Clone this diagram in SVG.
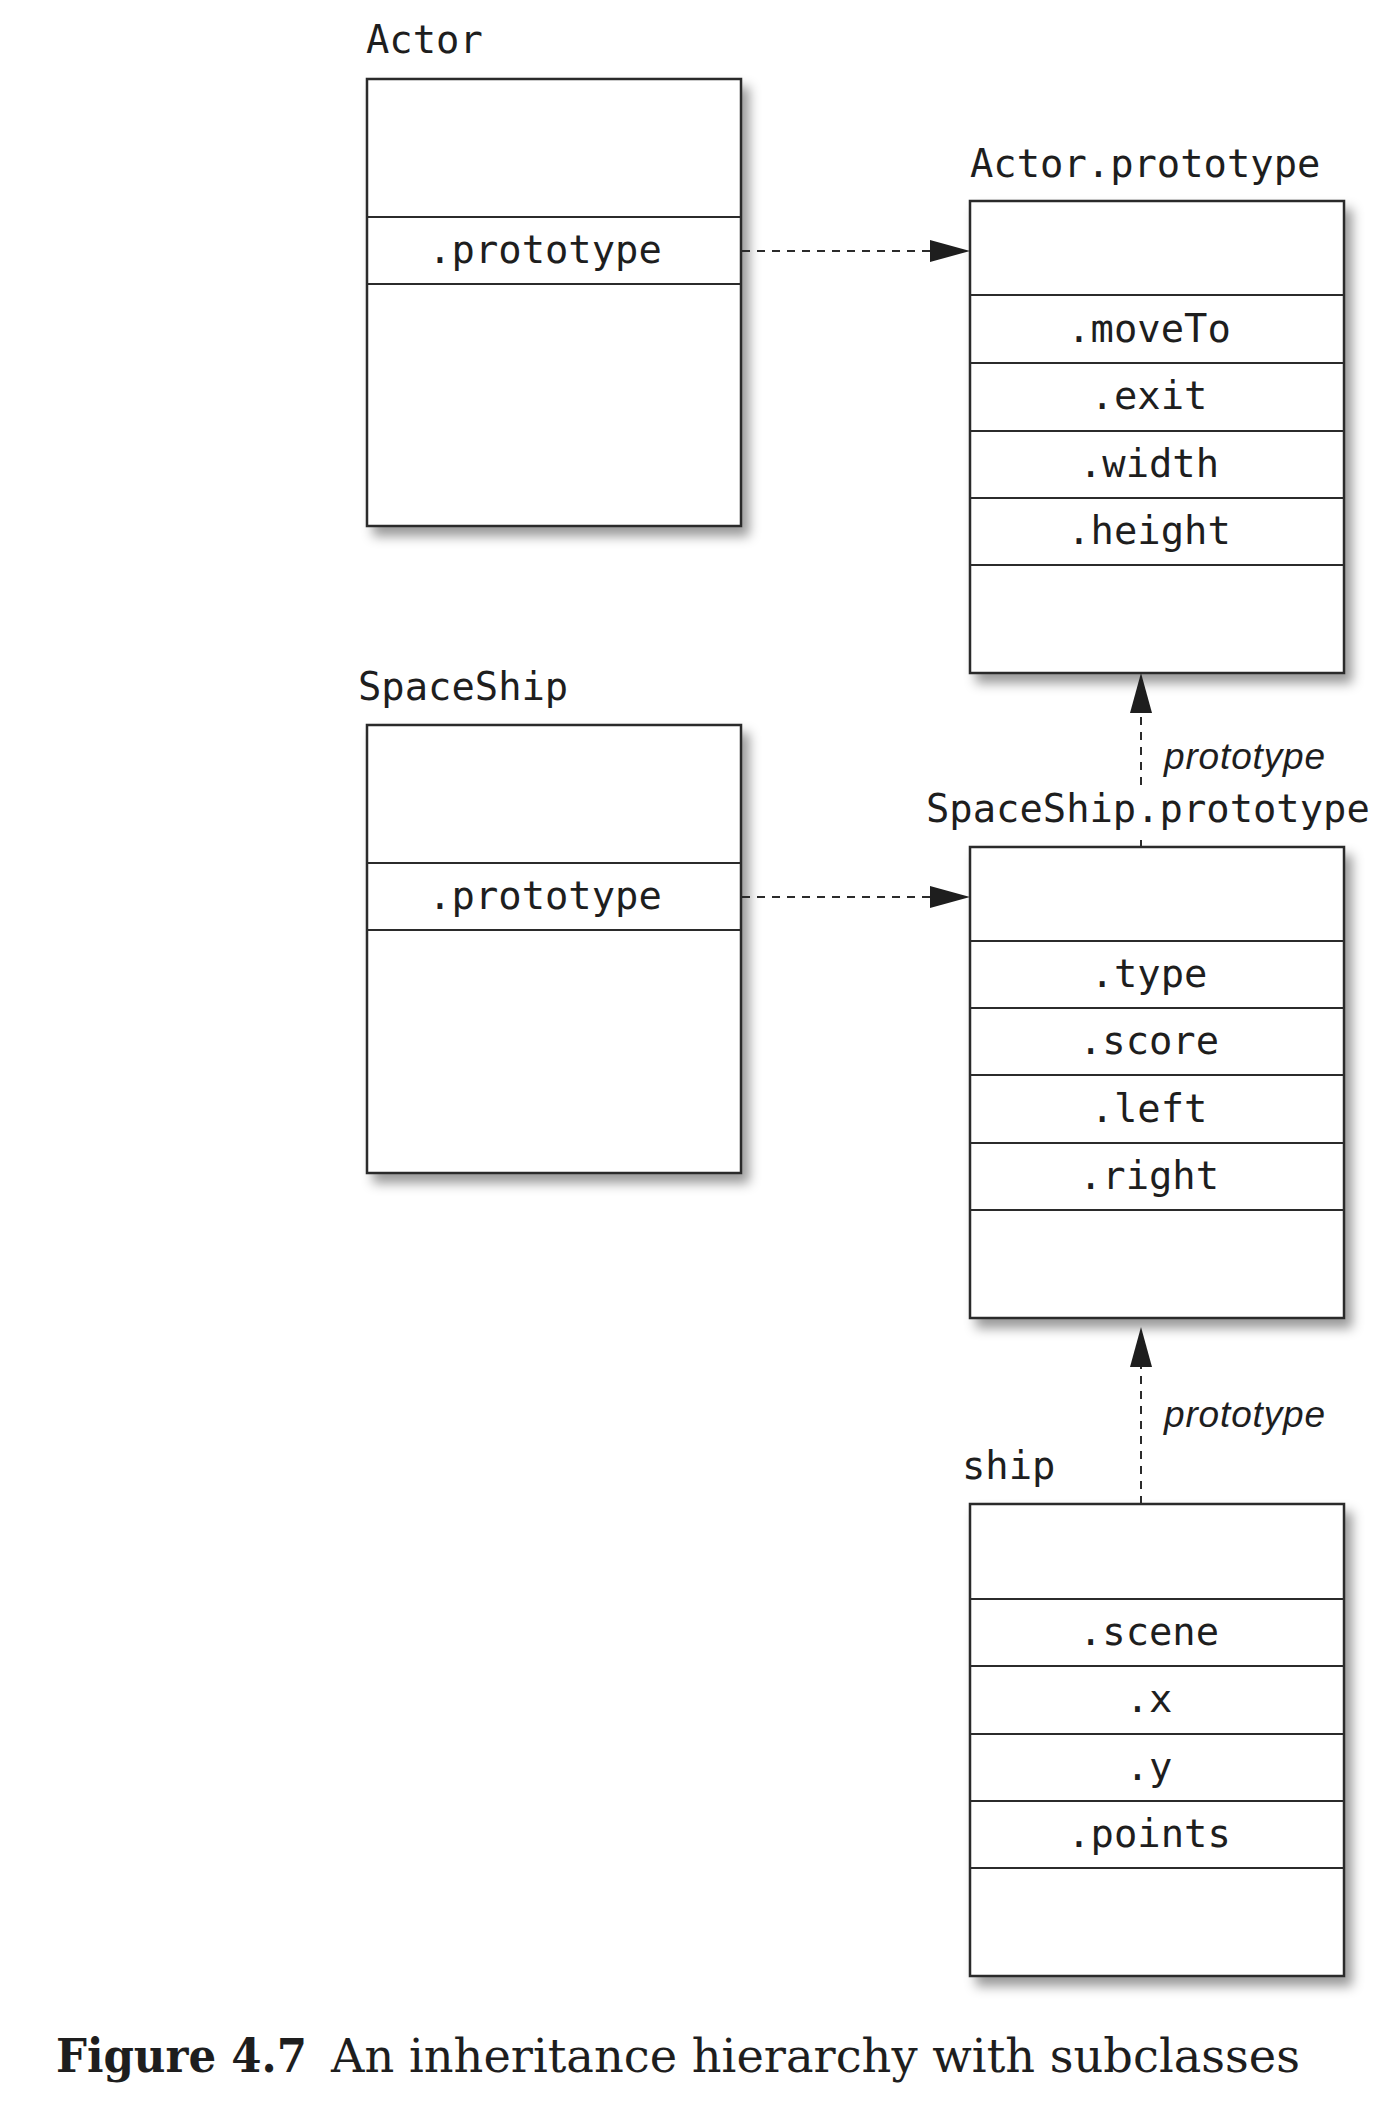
<svg xmlns="http://www.w3.org/2000/svg" width="1386" height="2110" viewBox="0 0 1386 2110">
  <style>
    .box { fill: #ffffff; stroke: #2b2b2b; stroke-width: 2.5; }
    .sep { stroke: #2b2b2b; stroke-width: 2; }
    .mono { font-family: "DejaVu Sans Mono", "Liberation Mono", monospace; font-size: 38.8px; fill: #1e1e1e; }
    .mid { text-anchor: middle; }
    .ital { font-family: "Liberation Sans", Arial, sans-serif; font-style: italic; font-size: 37px; fill: #1e1e1e; }
    .dash { fill: none; stroke: #2b2b2b; stroke-width: 2; stroke-dasharray: 8 7; }
    .cap { font-family: "DejaVu Serif", "Liberation Serif", serif; font-size: 46px; fill: #1e1e1e; }
  </style>
  <defs>
    <filter id="shadow" x="-10%" y="-10%" width="130%" height="130%">
      <feDropShadow dx="7" dy="9" stdDeviation="6" flood-color="#000000" flood-opacity="0.4"/>
    </filter>
    <marker id="arrow" markerUnits="userSpaceOnUse" markerWidth="40" markerHeight="22" refX="0" refY="11" orient="auto" viewBox="0 0 40 22">
      <path d="M0,0 L40,11 L0,22 Z" fill="#1e1e1e"/>
    </marker>
  </defs>
  <rect x="0" y="0" width="1386" height="2110" fill="#ffffff"/>

  <g id="actor">
    <text class="mono" x="366" y="53">Actor</text>
    <rect class="box" x="367" y="79" width="374" height="447" filter="url(#shadow)"/>
    <line class="sep" x1="367" y1="217" x2="741" y2="217"/>
    <line class="sep" x1="367" y1="284" x2="741" y2="284"/>
    <text class="mono mid" x="545" y="263">.prototype</text>
  </g>

  <g id="actor-prototype">
    <text class="mono" x="970" y="177">Actor.prototype</text>
    <rect class="box" x="970" y="201" width="374" height="472" filter="url(#shadow)"/>
    <line class="sep" x1="970" y1="295" x2="1344" y2="295"/>
    <line class="sep" x1="970" y1="363" x2="1344" y2="363"/>
    <line class="sep" x1="970" y1="431" x2="1344" y2="431"/>
    <line class="sep" x1="970" y1="498" x2="1344" y2="498"/>
    <line class="sep" x1="970" y1="565" x2="1344" y2="565"/>
    <text class="mono mid" x="1149" y="342">.moveTo</text>
    <text class="mono mid" x="1149" y="409">.exit</text>
    <text class="mono mid" x="1149" y="477">.width</text>
    <text class="mono mid" x="1149" y="544">.height</text>
  </g>

  <g id="spaceship">
    <text class="mono" x="358" y="700">SpaceShip</text>
    <rect class="box" x="367" y="725" width="374" height="448" filter="url(#shadow)"/>
    <line class="sep" x1="367" y1="863" x2="741" y2="863"/>
    <line class="sep" x1="367" y1="930" x2="741" y2="930"/>
    <text class="mono mid" x="545" y="909">.prototype</text>
  </g>

  <g id="spaceship-prototype">
    <text class="mono" x="926" y="822">SpaceShip.prototype</text>
    <rect class="box" x="970" y="847" width="374" height="471" filter="url(#shadow)"/>
    <line class="sep" x1="970" y1="941" x2="1344" y2="941"/>
    <line class="sep" x1="970" y1="1008" x2="1344" y2="1008"/>
    <line class="sep" x1="970" y1="1075" x2="1344" y2="1075"/>
    <line class="sep" x1="970" y1="1143" x2="1344" y2="1143"/>
    <line class="sep" x1="970" y1="1210" x2="1344" y2="1210"/>
    <text class="mono mid" x="1149" y="987">.type</text>
    <text class="mono mid" x="1149" y="1054">.score</text>
    <text class="mono mid" x="1149" y="1122">.left</text>
    <text class="mono mid" x="1149" y="1189">.right</text>
  </g>

  <g id="ship">
    <text class="mono" x="962" y="1479">ship</text>
    <rect class="box" x="970" y="1504" width="374" height="472" filter="url(#shadow)"/>
    <line class="sep" x1="970" y1="1599" x2="1344" y2="1599"/>
    <line class="sep" x1="970" y1="1666" x2="1344" y2="1666"/>
    <line class="sep" x1="970" y1="1734" x2="1344" y2="1734"/>
    <line class="sep" x1="970" y1="1801" x2="1344" y2="1801"/>
    <line class="sep" x1="970" y1="1868" x2="1344" y2="1868"/>
    <text class="mono mid" x="1149" y="1645">.scene</text>
    <text class="mono mid" x="1149" y="1712">.x</text>
    <text class="mono mid" x="1149" y="1780">.y</text>
    <text class="mono mid" x="1149" y="1847">.points</text>
  </g>

  <g id="connectors">
    <path class="dash" d="M742,251 H930" marker-end="url(#arrow)"/>
    <path class="dash" d="M742,897 H930" marker-end="url(#arrow)"/>
    <path class="dash" d="M1141,847 V840 M1141,785 V713" marker-end="url(#arrow)"/>
    <text class="ital" x="1164" y="769" textLength="161" lengthAdjust="spacing">prototype</text>
    <path class="dash" d="M1141,1504 V1367" marker-end="url(#arrow)"/>
    <text class="ital" x="1164" y="1427" textLength="161" lengthAdjust="spacing">prototype</text>
  </g>

  <g id="caption">
    <text class="cap" x="56" y="2072" font-weight="bold" textLength="251" lengthAdjust="spacingAndGlyphs">Figure 4.7</text>
    <text class="cap" x="331" y="2072" textLength="969" lengthAdjust="spacingAndGlyphs">An inheritance hierarchy with subclasses</text>
  </g>
</svg>
